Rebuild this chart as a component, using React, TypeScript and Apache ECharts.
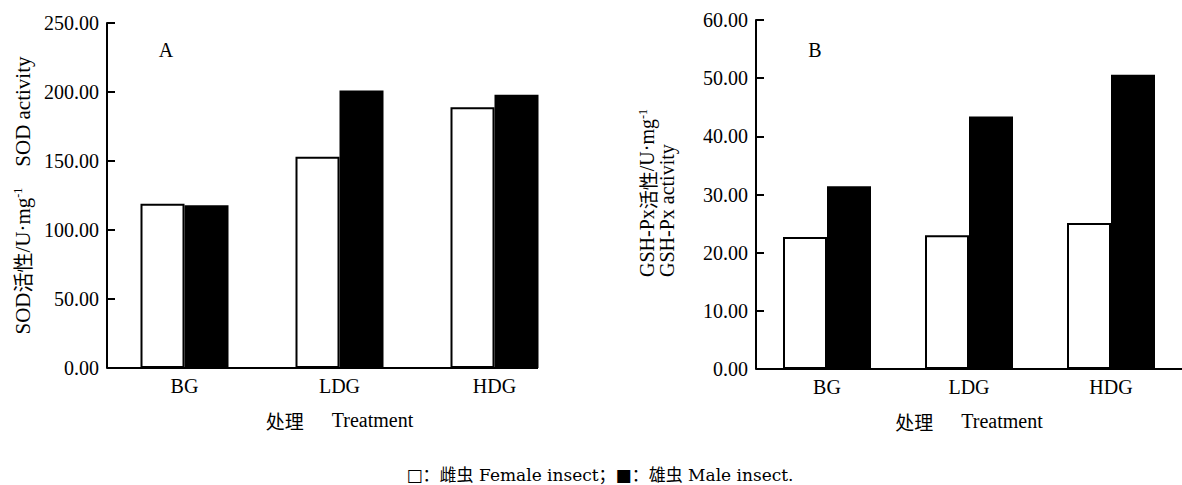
import React, { useEffect, useRef } from "react";
import * as echarts from "echarts";

const categories = ["BG", "LDG", "HDG"];
const sodFemale = [119, 153, 189];
const sodMale = [118, 201, 198];
const gshFemale = [22.7, 23.0, 25.1];
const gshMale = [31.4, 43.4, 50.6];
const sodAxis = { min: 0, max: 250, interval: 50 };
const gshAxis = { min: 0, max: 60, interval: 10 };
const xNameCn = "处理";
const xNameEn = "Treatment";
const caption = "□：雌虫 Female insect；■：雄虫 Male insect.";

const SERIF = "Liberation Serif";
const CJK = "Noto Sans CJK SC";
const FONT = "'Liberation Serif', 'Noto Sans CJK SC', serif";

export default function App() {
  const ref = useRef<HTMLDivElement>(null);
  useEffect(() => {
    if (!ref.current) return;
    const chart = echarts.init(ref.current, undefined, { renderer: "svg" });
    const yAxisBase = (ax: any, gridIndex: number) => ({
      type: "value",
      gridIndex,
      min: ax.min,
      max: ax.max,
      interval: ax.interval,
      axisLine: { show: true, lineStyle: { color: "#000", width: 2 } },
      axisTick: { show: true, inside: true, length: 8, lineStyle: { color: "#000", width: 2 } },
      splitLine: { show: false },
      axisLabel: {
        color: "#000",
        fontFamily: SERIF,
        fontSize: 20,
        margin: 8,
        formatter: (v: number) => v.toFixed(2),
      },
    });
    const xAxisBase = (gridIndex: number) => ({
      type: "category",
      gridIndex,
      data: categories,
      axisLine: { show: false },
      axisTick: { show: false },
      axisLabel: { color: "#000", fontFamily: SERIF, fontSize: 20, margin: 8 },
      name: `{c|${xNameCn}}{t|${xNameEn}}`,
      nameLocation: "middle",
      nameGap: 42,
      nameTextStyle: {
        color: "#000",
        fontFamily: SERIF,
        fontSize: 20,
        rich: {
          c: { fontFamily: CJK, fontSize: 19, color: "#000", padding: [0, 28, 0, 0] },
          t: { fontFamily: SERIF, fontSize: 20, color: "#000" },
        },
      },
    });
    const femaleStyle = { color: "#fff", borderColor: "#000", borderWidth: 2 };
    const maleStyle = { color: "#000" };
    chart.setOption({
      animation: false,
      backgroundColor: "#fff",
      grid: [
        { left: 107, top: 23, width: 465, height: 345 },
        { left: 756, top: 20, width: 470, height: 349 },
      ],
      xAxis: [xAxisBase(0), xAxisBase(1)],
      yAxis: [
        {
          ...yAxisBase(sodAxis, 0),
          name: "{n|SOD}{c|活性}{n|/U·mg}{s|-1}{n|    SOD activity}",
          nameLocation: "middle",
          nameRotate: 90,
          nameGap: 74,
          nameTextStyle: {
            color: "#000",
            fontFamily: SERIF,
            fontSize: 21,
            rich: {
              n: { fontFamily: SERIF, fontSize: 21, color: "#000" },
              c: { fontFamily: CJK, fontSize: 20, color: "#000" },
              s: { fontFamily: SERIF, fontSize: 12, color: "#000", verticalAlign: "top" },
            },
          },
        },
        yAxisBase(gshAxis, 1),
      ],
      series: [
        { name: "Female", type: "bar", xAxisIndex: 0, yAxisIndex: 0, data: sodFemale, barWidth: 44, barGap: "0%", itemStyle: femaleStyle },
        { name: "Male", type: "bar", xAxisIndex: 0, yAxisIndex: 0, data: sodMale, barWidth: 44, barGap: "0%", itemStyle: maleStyle },
        { name: "Female", type: "bar", xAxisIndex: 1, yAxisIndex: 1, data: gshFemale, barWidth: 44, barGap: "0%", itemStyle: femaleStyle },
        { name: "Male", type: "bar", xAxisIndex: 1, yAxisIndex: 1, data: gshMale, barWidth: 44, barGap: "0%", itemStyle: maleStyle },
      ],
      graphic: [
        { type: "line", shape: { x1: 107, y1: 368, x2: 538, y2: 368 }, style: { stroke: "#000", lineWidth: 2 } },
        { type: "line", shape: { x1: 756, y1: 369, x2: 1182, y2: 369 }, style: { stroke: "#000", lineWidth: 2 } },
        { type: "text", x: 166, y: 50, style: { text: "A", font: `20px ${FONT}`, fill: "#000", align: "center", verticalAlign: "middle" } },
        { type: "text", x: 815, y: 50, style: { text: "B", font: `20px ${FONT}`, fill: "#000", align: "center", verticalAlign: "middle" } },
        {
          type: "text",
          x: 657,
          y: 277,
          rotation: Math.PI / 2,
          style: {
            text: "{n|GSH-Px}{c|活性}{n|/U·mg}{s|-1}\n{n|GSH-Px activity}",
            fill: "#000",
            font: `20px ${FONT}`,
            align: "left",
            verticalAlign: "middle",
            rich: {
              n: { fontFamily: SERIF, fontSize: 20, lineHeight: 20, fill: "#000" },
              c: { fontFamily: CJK, fontSize: 19, lineHeight: 20, fill: "#000" },
              s: { fontFamily: SERIF, fontSize: 12, lineHeight: 20, fill: "#000", verticalAlign: "top" },
            },
          },
        },
        { type: "text", x: 600, y: 475, style: { text: caption, font: "17px 'DejaVu Serif', 'Noto Sans CJK SC', serif", fill: "#000", align: "center", verticalAlign: "middle" } },
      ],
    });
    return () => chart.dispose();
  }, []);
  return <div ref={ref} style={{ position: "fixed", left: 0, top: 0, width: 1182, height: 485 }} />;
}
